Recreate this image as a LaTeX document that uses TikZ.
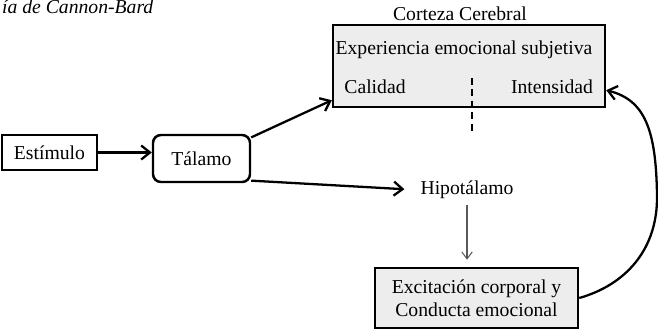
\documentclass[tikz,border=0pt]{standalone}
\usepackage{fontspec}
\setmainfont{Liberation Serif}
\definecolor{boxGray}{RGB}{237,237,237}
\usetikzlibrary{arrows.meta,positioning}

\begin{document}
\begin{tikzpicture}[x=0.02cm, y=0.02cm,
    txt/.style={font=\fontsize{11.2}{13}\selectfont, inner sep=1pt},
    block/.style={rectangle, draw=black, line width=1.4pt, inner sep=0pt,
                  font=\fontsize{11.2}{13}\selectfont, align=center},
    link/.style={-{Straight Barb[length=5pt, width=8pt]}, line width=1.3pt},
    thin link/.style={-{Straight Barb[length=4pt, width=6pt]}, gray!70!black,
                      line width=0.6pt}
  ]
  \useasboundingbox (0,0) rectangle (658,-329);
  \node[txt, font=\fontsize{11.2}{13}\selectfont\itshape, anchor=west] (titulo)
    at (0,-7) {ía de Cannon-Bard};

  % corteza
  \node[block, fill=boxGray, minimum width=5.44cm, minimum height=1.64cm]
    (corteza) at (469,-66) {};
  \node[txt] (ccLabel) at (460,-14) {Corteza Cerebral};
  \node[txt] (exper) at (464,-50) {Experiencia emocional subjetiva};
  \node[txt] (calidad) at (375,-87) {Calidad};
  \node[txt] (intens) at (552,-87) {Intensidad};
  \coordinate (divTop) at (472,-78);
  \coordinate (divBot) at (472,-132);
  \draw[line width=1.5pt, dash pattern=on 4pt off 2.5pt] (divTop) -- (divBot);

  % entrada
  \node[block, minimum width=1.9cm, minimum height=0.7cm] (estimulo)
    at (49.5,-152.5) {Estímulo};
  \node[block, rounded corners=4.5pt, minimum width=1.94cm,
        minimum height=0.94cm] (talamo) at (201.5,-158.5) {Tálamo};
  \node[txt] (hipo) at (467,-190) {Hipotálamo};
  \node[block, fill=boxGray, minimum width=4.06cm, minimum height=1.2cm]
    (excit) at (476.5,-298) {Excitación corporal y\\Conducta emocional};

  \draw[link] (estimulo) -- (estimulo -| talamo.west);
  \draw[link] (talamo.23) -- (corteza.194);
  \draw[link, shorten >=8pt] (talamo.-24) -- (hipo.west);
  \draw[thin link, shorten <=2pt, shorten >=4pt] (hipo.south) -- (hipo.south |- excit.north);
  \draw[link] (excit.east) .. controls (625,-285) and (658,-250) .. (657,-195)
    .. controls (656,-130) and (645,-100) .. (corteza.-10);
\end{tikzpicture}
\end{document}
